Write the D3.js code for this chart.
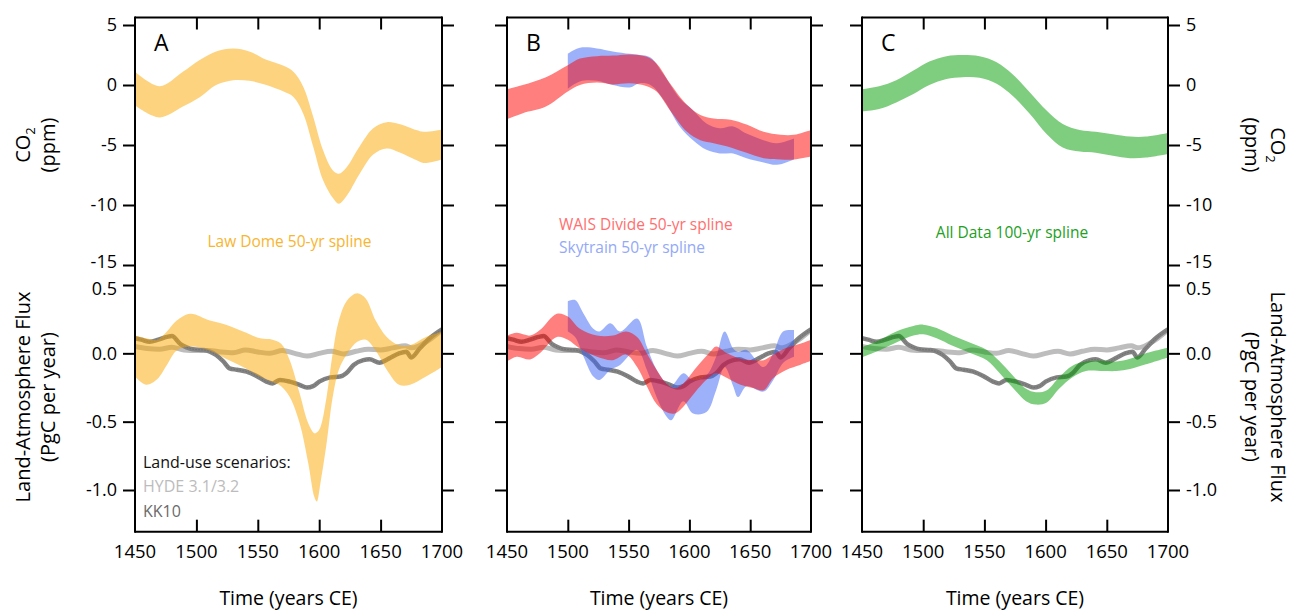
<!DOCTYPE html>
<html>
<head>
<meta charset="utf-8">
<script src="https://cdn.jsdelivr.net/npm/d3@7"></script>
<style>
  html, body { margin: 0; padding: 0; background: #fff; }
  svg { display: block; font-family: "Open Sans", Lato, sans-serif; }
</style>
</head>
<body>
<svg id="chart" width="1293" height="611"></svg>
<script>
// ---- Tick labels ----
const xTicks = [1450, 1500, 1550, 1600, 1650, 1700];
const co2Ticks = [5, 0, -5, -10, -15];
const fluxTicks = [0.5, 0.0, -0.5, -1.0];

// ---- Law Dome 50-yr spline, CO2 anomaly (ppm) ----
const lawCo2Years = [1450, 1470, 1489, 1503, 1516, 1530, 1543, 1557, 1571, 1579, 1587, 1595, 1603, 1611, 1616, 1622, 1633, 1644, 1655, 1665, 1679, 1685, 1700];
const lawCo2Hi    = [1.1, -0.1, 1.1, 2.1, 2.8, 3.05, 2.8, 2.1, 1.6, 1.1, -0.15, -2.6, -5.4, -7.1, -7.4, -6.9, -5.1, -3.6, -3.1, -3.25, -3.75, -3.9, -3.7];
const lawCo2Lo    = [-1.7, -2.7, -1.8, -1.0, 0.0, 0.4, 0.35, 0.0, -0.55, -1.0, -2.4, -5.1, -7.9, -9.4, -9.9, -9.3, -7.4, -5.8, -5.3, -5.6, -6.25, -6.5, -6.2];

// ---- Law Dome 50-yr spline, land-atmosphere flux (PgC/yr) ----
const lawFluxYears = [1450, 1459, 1468, 1476, 1484, 1495, 1511, 1524, 1538, 1552, 1562, 1569, 1576, 1584, 1591, 1596, 1598, 1601, 1606, 1611, 1616, 1623, 1631, 1638, 1646, 1655, 1665, 1674, 1687, 1700];
const lawFluxHi    = [0.13, 0.11, 0.10, 0.16, 0.24, 0.29, 0.24, 0.21, 0.16, 0.11, 0.10, 0.07, -0.05, -0.29, -0.51, -0.585, -0.58, -0.54, -0.32, 0.0, 0.24, 0.39, 0.44, 0.40, 0.24, 0.12, 0.06, 0.06, 0.12, 0.16];
const lawFluxLo    = [-0.17, -0.23, -0.19, -0.085, 0.02, 0.05, 0.02, -0.04, -0.10, -0.17, -0.21, -0.24, -0.32, -0.51, -0.80, -1.05, -1.085, -0.95, -0.66, -0.32, -0.12, 0.0, 0.085, 0.10, 0.02, -0.12, -0.23, -0.23, -0.17, -0.10];

// ---- WAIS Divide 50-yr spline ----
const waisCo2Years = [1450, 1463, 1482, 1500, 1510, 1524, 1537, 1551, 1565, 1573, 1584, 1598, 1609, 1620, 1634, 1647, 1661, 1675, 1686, 1700];
const waisCo2Hi    = [-0.35, 0.0, 0.65, 1.65, 2.2, 2.4, 2.45, 2.55, 2.35, 1.8, 0.15, -1.65, -2.5, -2.8, -2.9, -3.3, -3.9, -4.15, -4.15, -3.75];
const waisCo2Lo    = [-2.85, -2.35, -1.8, -0.55, 0.0, 0.2, 0.05, 0.15, -0.1, -0.55, -2.1, -3.9, -4.6, -4.85, -5.2, -5.65, -6.1, -6.2, -6.2, -5.95];

const waisFluxYears = [1450, 1458, 1469, 1477, 1491, 1500, 1510, 1524, 1537, 1548, 1557, 1565, 1573, 1581, 1588, 1595, 1606, 1617, 1622, 1631, 1642, 1653, 1661, 1669, 1680, 1691, 1700];
const waisFluxHi    = [0.13, 0.15, 0.13, 0.17, 0.29, 0.27, 0.18, 0.13, 0.13, 0.16, 0.12, 0.0, -0.12, -0.22, -0.255, -0.22, -0.10, 0.01, 0.05, 0.0, -0.04, -0.05, -0.05, -0.01, 0.04, 0.07, 0.10];
const waisFluxLo    = [-0.06, -0.025, -0.045, 0.0, 0.12, 0.10, 0.035, -0.025, -0.05, -0.01, -0.10, -0.24, -0.37, -0.43, -0.44, -0.39, -0.27, -0.17, -0.145, -0.18, -0.23, -0.255, -0.27, -0.18, -0.12, -0.085, -0.055];

// ---- Skytrain 50-yr spline ----
const skyCo2Years = [1500, 1510, 1524, 1537, 1551, 1559, 1568, 1579, 1592, 1603, 1614, 1625, 1636, 1647, 1661, 1672, 1686];
const skyCo2Hi    = [2.6, 3.1, 3.05, 2.8, 2.6, 2.5, 2.3, 0.85, -1.1, -2.1, -3.2, -3.6, -3.45, -4.05, -4.6, -4.85, -4.45];
const skyCo2Lo    = [-0.3, 0.3, 0.35, 0.0, -0.2, 0.15, 0.0, -1.25, -3.45, -4.6, -5.4, -5.7, -5.7, -6.1, -6.45, -6.65, -6.2];

const skyFluxYears = [1500, 1506, 1513, 1521, 1526, 1535, 1543, 1557, 1565, 1573, 1581, 1585, 1595, 1603, 1614, 1622, 1629, 1636, 1640, 1647, 1661, 1669, 1677, 1686];
const skyFluxHi    = [0.38, 0.39, 0.29, 0.18, 0.16, 0.22, 0.16, 0.255, 0.05, -0.12, -0.22, -0.24, -0.145, -0.195, -0.16, -0.025, 0.16, 0.035, 0.01, 0.025, -0.10, 0.0, 0.16, 0.17];
const skyFluxLo    = [0.16, 0.12, -0.025, -0.17, -0.195, -0.12, -0.085, 0.025, -0.12, -0.32, -0.46, -0.49, -0.35, -0.44, -0.43, -0.27, -0.10, -0.24, -0.32, -0.24, -0.28, -0.195, -0.07, -0.025];

// ---- All Data 100-yr spline ----
const allCo2Years = [1450, 1464, 1478, 1492, 1505, 1519, 1532, 1546, 1560, 1573, 1587, 1601, 1614, 1628, 1641, 1655, 1669, 1682, 1700];
const allCo2Hi    = [-0.35, -0.1, 0.4, 1.2, 1.95, 2.4, 2.5, 2.4, 1.9, 0.9, -0.6, -2.15, -3.25, -3.75, -3.9, -4.1, -4.3, -4.3, -4.0];
const allCo2Lo    = [-2.2, -2.0, -1.45, -0.75, 0.0, 0.5, 0.65, 0.6, 0.1, -0.9, -2.4, -4.1, -5.2, -5.55, -5.65, -5.9, -6.1, -6.05, -5.75];

const allFluxYears = [1450, 1464, 1478, 1492, 1500, 1511, 1524, 1538, 1552, 1562, 1573, 1584, 1592, 1601, 1611, 1622, 1633, 1647, 1658, 1669, 1682, 1700];
const allFluxHi    = [0.045, 0.095, 0.16, 0.20, 0.21, 0.185, 0.13, 0.08, 0.025, -0.055, -0.16, -0.26, -0.285, -0.27, -0.175, -0.09, -0.06, -0.055, -0.06, -0.04, 0.0, 0.04];
const allFluxLo    = [-0.03, 0.02, 0.08, 0.13, 0.14, 0.11, 0.055, 0.005, -0.05, -0.14, -0.25, -0.35, -0.375, -0.36, -0.26, -0.175, -0.13, -0.13, -0.13, -0.115, -0.08, -0.03];

// ---- Land-use scenarios (PgC/yr) ----
const kk10Years = [1450, 1455, 1462, 1469, 1476, 1480, 1487, 1492, 1497, 1506, 1511, 1516, 1522, 1527, 1533, 1541, 1549, 1557, 1562, 1568, 1576, 1584, 1590, 1595, 1600, 1609, 1617, 1622, 1628, 1636, 1641, 1649, 1657, 1665, 1671, 1675, 1682, 1690, 1700];
const kk10Flux  = [0.11, 0.10, 0.085, 0.10, 0.12, 0.127, 0.068, 0.044, 0.03, 0.024, 0.012, -0.012, -0.06, -0.11, -0.12, -0.134, -0.166, -0.207, -0.22, -0.195, -0.207, -0.23, -0.25, -0.24, -0.207, -0.176, -0.17, -0.146, -0.085, -0.05, -0.044, -0.068, -0.037, 0.0, 0.012, -0.03, 0.037, 0.11, 0.175];
const hydeYears = [1450, 1460, 1470, 1480, 1490, 1500, 1510, 1520, 1530, 1540, 1550, 1560, 1570, 1580, 1590, 1600, 1610, 1620, 1630, 1640, 1650, 1660, 1670, 1675, 1680, 1690, 1700];
const hydeFlux  = [0.05, 0.035, 0.03, 0.045, 0.025, 0.02, 0.02, 0.01, 0.005, 0.025, 0.01, 0.0, 0.02, 0.0, -0.02, 0.0, 0.015, -0.005, 0.015, 0.03, 0.025, 0.04, 0.055, 0.04, 0.05, 0.10, 0.17];

// ---- Colours ----
const colLaw = "rgba(251,167,0,0.5)";
const colWais = "rgba(255,0,0,0.5)";
const colSky = "rgba(60,100,245,0.5)";
const colAll = "rgba(0,155,0,0.5)";

const svg = d3.select("#chart");

const zip = (years, hi, lo) => years.map((y, i) => ({ year: y, hi: hi[i], lo: lo[i] }));
const pts = (years, v) => years.map((y, i) => ({ year: y, v: v[i] }));

// Panel geometry
const panels = [
  { id: "A", x0: 135, x1: 442 },
  { id: "B", x0: 507, x1: 811 },
  { id: "C", x0: 862, x1: 1168 }
];
const yTop = d3.scaleLinear().domain([-15, 5]).range([265, 25]);
const yBot = d3.scaleLinear().domain([-1, 0.5]).range([490, 285]);
const topEdge = yTop(5.625);
const botEdge = yBot(-1.305);

const defs = svg.append("defs");

function band(g, x, y, data, fill) {
  const area = d3.area()
    .x(d => x(d.year)).y0(d => y(d.lo)).y1(d => y(d.hi))
    .curve(d3.curveCatmullRom.alpha(0.5));
  g.append("path").datum(data).attr("d", area).attr("fill", fill);
}
function landUse(g, x, y) {
  const line = d3.line().x(d => x(d.year)).y(d => y(d.v)).curve(d3.curveMonotoneX);
  g.append("path").datum(pts(hydeYears, hydeFlux)).attr("d", line)
    .attr("fill", "none").attr("stroke", "#bdbdbd").attr("stroke-width", 5);
  g.append("path").datum(pts(kk10Years, kk10Flux)).attr("d", line)
    .attr("fill", "none").attr("stroke", "#838383").attr("stroke-width", 4.5);
  g.append("path").datum(pts(kk10Years, kk10Flux)).attr("d", line)
    .attr("fill", "none").attr("stroke", "#5e5e5e").attr("stroke-width", 1)
    .attr("stroke-dasharray", "1.5,1.5").attr("opacity", 0.5);
}

const tickFont = 18;

panels.forEach((p, i) => {
  const x = d3.scaleLinear().domain([1450, 1700]).range([p.x0, p.x1]);
  p.x = x;

  // clip regions
  defs.append("clipPath").attr("id", "clipT" + p.id).append("rect")
    .attr("x", p.x0).attr("y", topEdge).attr("width", p.x1 - p.x0).attr("height", 265 - topEdge);
  defs.append("clipPath").attr("id", "clipB" + p.id).append("rect")
    .attr("x", p.x0).attr("y", 285).attr("width", p.x1 - p.x0).attr("height", botEdge - 285);

  const gT = svg.append("g").attr("clip-path", `url(#clipT${p.id})`);
  const gB = svg.append("g").attr("clip-path", `url(#clipB${p.id})`);

  landUse(gB, x, yBot);

  if (p.id === "A") {
    band(gT, x, yTop, zip(lawCo2Years, lawCo2Hi, lawCo2Lo), colLaw);
    band(gB, x, yBot, zip(lawFluxYears, lawFluxHi, lawFluxLo), colLaw);
  } else if (p.id === "B") {
    band(gT, x, yTop, zip(skyCo2Years, skyCo2Hi, skyCo2Lo), colSky);
    band(gT, x, yTop, zip(waisCo2Years, waisCo2Hi, waisCo2Lo), colWais);
    band(gB, x, yBot, zip(skyFluxYears, skyFluxHi, skyFluxLo), colSky);
    band(gB, x, yBot, zip(waisFluxYears, waisFluxHi, waisFluxLo), colWais);
  } else {
    band(gT, x, yTop, zip(allCo2Years, allCo2Hi, allCo2Lo), colAll);
    band(gB, x, yBot, zip(allFluxYears, allFluxHi, allFluxLo), colAll);
  }

  // frame lines
  const frame = svg.append("g").attr("stroke", "#000").attr("stroke-width", 2).attr("fill", "none");
  frame.append("line").attr("x1", p.x0).attr("x2", p.x1).attr("y1", topEdge).attr("y2", topEdge);
  frame.append("line").attr("x1", p.x0).attr("x2", p.x1).attr("y1", botEdge).attr("y2", botEdge);
  frame.append("line").attr("x1", p.x0).attr("x2", p.x0).attr("y1", topEdge - 1).attr("y2", botEdge + 1);
  frame.append("line").attr("x1", p.x1).attr("x2", p.x1).attr("y1", topEdge - 1).attr("y2", botEdge + 1);

  // x ticks: inward on top edge of the CO2 panel, inward on the bottom edge of the flux panel
  const inner = xTicks.slice(1, -1);
  const topAx = svg.append("g").attr("transform", `translate(0,${topEdge})`)
    .call(d3.axisBottom(x).tickValues(inner).tickSize(12).tickFormat(""));
  const botAx = svg.append("g").attr("transform", `translate(0,${botEdge})`)
    .call(d3.axisTop(x).tickValues(inner).tickSize(12).tickFormat(""));
  svg.append("g").selectAll("text").data(xTicks).join("text")
    .attr("x", d => x(d)).attr("y", 558).attr("text-anchor", "middle")
    .attr("font-size", tickFont + 0.5).attr("fill", "#000").text(d => d);

  // y ticks, outward on both sides
  const lblLeft = p.id === "A", lblRight = p.id === "C";
  const yTopL = svg.append("g").attr("transform", `translate(${p.x0},0)`)
    .call(d3.axisLeft(yTop).tickValues(co2Ticks).tickSize(12).tickPadding(6).tickFormat(d => lblLeft ? String(d) : ""));
  const yTopR = svg.append("g").attr("transform", `translate(${p.x1},0)`)
    .call(d3.axisRight(yTop).tickValues(co2Ticks).tickSize(12).tickPadding(6).tickFormat(d => lblRight ? String(d) : ""));
  const yBotL = svg.append("g").attr("transform", `translate(${p.x0},0)`)
    .call(d3.axisLeft(yBot).tickValues(fluxTicks).tickSize(12).tickPadding(6).tickFormat(d => lblLeft ? d.toFixed(1) : ""));
  const yBotR = svg.append("g").attr("transform", `translate(${p.x1},0)`)
    .call(d3.axisRight(yBot).tickValues(fluxTicks).tickSize(12).tickPadding(6).tickFormat(d => lblRight ? d.toFixed(1) : ""));
  [topAx, botAx, yTopL, yTopR, yBotL, yBotR].forEach(a => {
    a.select(".domain").remove();
    a.selectAll(".tick line").attr("stroke", "#000").attr("stroke-width", 2);
    a.selectAll(".tick text").attr("font-size", tickFont).attr("font-family", "'Open Sans', Lato, sans-serif").attr("fill", "#000");
  });
  // the lowest CO2 label and the highest flux label sit close together; ease them apart
  [yTopL, yTopR].forEach(a => a.selectAll(".tick").filter(d => d === -15).select("text").attr("dy", "0.12em"));
  [yBotL, yBotR].forEach(a => a.selectAll(".tick").filter(d => d === 0.5).select("text").attr("dy", "0.5em"));

  // panel letter
  svg.append("text").attr("x", p.x0 + 19).attr("y", 51).attr("font-size", 23)
    .attr("fill", "#000").text(p.id);

  // x-axis title
  svg.append("text").attr("x", (p.x0 + p.x1) / 2).attr("y", 605).attr("text-anchor", "middle")
    .attr("font-size", 19.5).attr("fill", "#000").text("Time (years CE)");
});

// series labels
const pA = panels[0], pB = panels[1], pC = panels[2];
svg.append("text").attr("x", (pA.x0 + pA.x1) / 2 + 1).attr("y", 247).attr("text-anchor", "middle")
  .attr("font-size", 15.5).attr("fill", "#f8b530").text("Law Dome 50-yr spline");
svg.append("text").attr("x", 559).attr("y", 230)
  .attr("font-size", 15.5).attr("fill", "#ff6f6f").text("WAIS Divide 50-yr spline");
svg.append("text").attr("x", 559).attr("y", 253)
  .attr("font-size", 15.5).attr("fill", "#93a9f7").text("Skytrain 50-yr spline");
svg.append("text").attr("x", (pC.x0 + pC.x1) / 2 - 3).attr("y", 238).attr("text-anchor", "middle")
  .attr("font-size", 15.5).attr("fill", "#22a022").text("All Data 100-yr spline");

// land-use legend
svg.append("text").attr("x", 143).attr("y", 468).attr("font-size", 16).attr("fill", "#111").text("Land-use scenarios:");
svg.append("text").attr("x", 143).attr("y", 492).attr("font-size", 16).attr("fill", "#bcbcbc").text("HYDE 3.1/3.2");
svg.append("text").attr("x", 143).attr("y", 517).attr("font-size", 16).attr("fill", "#6a6a6a").text("KK10");

// axis titles
function vTitle(x, y, angle) {
  return svg.append("text").attr("transform", `translate(${x},${y}) rotate(${angle})`)
    .attr("text-anchor", "middle").attr("font-size", 20).attr("fill", "#000");
}
function co2Title(x, y, angle) {
  const t = vTitle(x, y, angle);
  t.append("tspan").text("CO");
  t.append("tspan").attr("font-size", 13).attr("dy", 5).text("2");
}
co2Title(30, 145, -90);
vTitle(55, 145, -90).text("(ppm)");
vTitle(30, 397, -90).text("Land-Atmosphere Flux");
vTitle(55, 397, -90).text("(PgC per year)");

co2Title(1271, 145, 90);
vTitle(1245, 145, 90).text("(ppm)");
vTitle(1271, 397, 90).text("Land-Atmosphere Flux");
vTitle(1245, 397, 90).text("(PgC per year)");
</script>
</body>
</html>
